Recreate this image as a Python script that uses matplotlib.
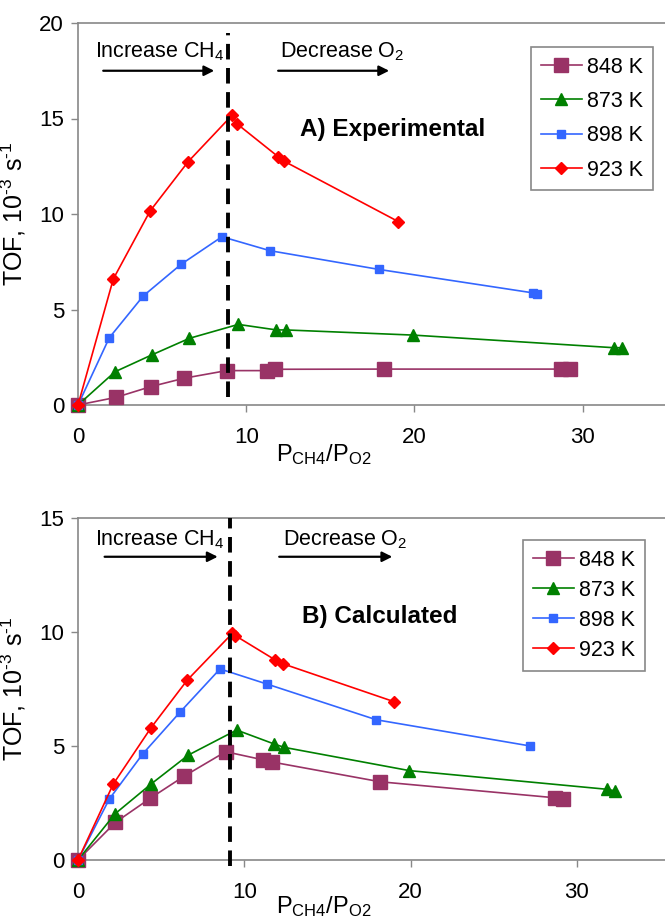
import matplotlib
matplotlib.use("Agg")
import matplotlib.pyplot as plt

plt.rcParams['font.family'] = ['Liberation Sans', 'DejaVu Sans']
plt.rcParams['mathtext.default'] = 'regular'

labels = ["848 K", "873 K", "898 K", "923 K"]
colors = ["#993366", "#008000", "#3366FF", "#FF0000"]
markers = ["s", "^", "s", "D"]
msizes = [10, 8, 6, 6.5]

# A) Experimental
expA_x = {
    "848 K": [0, 2.26, 4.32, 6.3, 8.83, 11.21, 11.7, 18.18, 28.74, 29.23],
    "873 K": [0, 2.2, 4.38, 6.62, 9.53, 11.8, 12.36, 19.93, 31.85, 32.36],
    "898 K": [0, 1.86, 3.88, 6.12, 8.56, 11.41, 17.88, 27.05, 27.3],
    "923 K": [0, 2.1, 4.28, 6.55, 9.17, 9.47, 11.9, 12.24, 19.05],
}
expA_y = {
    "848 K": [0, 0.4, 0.96, 1.4, 1.8, 1.8, 1.87, 1.88, 1.88, 1.88],
    "873 K": [0, 1.74, 2.62, 3.49, 4.22, 3.93, 3.93, 3.66, 3.0, 3.0],
    "898 K": [0, 3.52, 5.71, 7.36, 8.81, 8.08, 7.1, 5.87, 5.83],
    "923 K": [0, 6.6, 10.15, 12.74, 15.18, 14.71, 13.0, 12.77, 9.6],
}

# B) Calculated
calB_x = {
    "848 K": [0, 2.25, 4.33, 6.39, 8.88, 11.15, 11.65, 18.18, 28.68, 29.18],
    "873 K": [0, 2.22, 4.39, 6.63, 9.54, 11.79, 12.4, 19.93, 31.83, 32.3],
    "898 K": [0, 1.88, 3.89, 6.13, 8.54, 11.35, 17.94, 27.2],
    "923 K": [0, 2.12, 4.39, 6.57, 9.28, 9.46, 11.87, 12.35, 19.02],
}
calB_y = {
    "848 K": [0, 1.65, 2.7, 3.68, 4.75, 4.39, 4.3, 3.43, 2.73, 2.67],
    "873 K": [0, 2.02, 3.33, 4.6, 5.7, 5.09, 4.94, 3.92, 3.1, 3.03],
    "898 K": [0, 2.67, 4.65, 6.48, 8.38, 7.72, 6.15, 5.0],
    "923 K": [0, 3.33, 5.8, 7.89, 9.94, 9.84, 8.77, 8.6, 6.94],
}

fig = plt.figure(figsize=(6.65, 9.18), dpi=100)
axA = fig.add_axes([78/665, 1-405/918, 1-78/665, (405-23)/918])
axB = fig.add_axes([78/665, 1-860/918, 1-78/665, (860-518)/918])

grey = "#888888"

def style(ax, xmax, ymax, yticks, xlab_y):
    ax.set_xlim(0, xmax)
    ax.set_ylim(0, ymax)
    ax.set_xticks([0, 10, 20, 30])
    ax.set_yticks(yticks)
    for s in ["left", "bottom", "top"]:
        ax.spines[s].set_color(grey)
        ax.spines[s].set_linewidth(1.2)
    ax.spines["right"].set_visible(False)
    ax.tick_params(direction="out", length=5, width=1, color=grey,
                   labelsize=16, pad=5)
    ax.tick_params(axis="x", pad=11)
    ax.set_ylabel("TOF, 10$^{\u20103}$ s$^{\u20101}$", fontsize=18, labelpad=8)
    ax.set_xlabel("P$_{CH4}$/P$_{O2}$", fontsize=17)
    ax.xaxis.set_label_coords(0.418, xlab_y)

def plot_series(ax, xs, ys):
    for lab, c, m, ms in zip(labels, colors, markers, msizes):
        ax.plot(xs[lab], ys[lab], color=c, marker=m, markersize=ms, lw=1.2,
                markeredgecolor=c, label=lab, clip_on=False, zorder=3)

plot_series(axA, expA_x, expA_y)
plot_series(axB, calB_x, calB_y)

style(axA, 34.9, 20, [0, 5, 10, 15, 20], -0.098)
style(axB, 35.3, 15, [0, 5, 10, 15], -0.1)

# dashed lines
axA.plot([8.9, 8.9], [0.4, 19.5], color="black", lw=2.8, dashes=(4, 2.2), zorder=4)
axB.plot([9.14, 9.14], [-0.25, 15], color="black", lw=2.8, dashes=(4, 2.2), zorder=4, clip_on=False)

def annotate(ax, ytext, yarrow, x1, a1, a2, x2, b1, b2):
    ax.text(x1, ytext, "Increase CH$_4$", fontsize=15.5, va="center", ha="left")
    ax.annotate("", xy=(a2, yarrow), xytext=(a1, yarrow),
                arrowprops=dict(arrowstyle="-|>", color="black", lw=1.6,
                                mutation_scale=15, shrinkA=0, shrinkB=0))
    ax.text(x2, ytext, "Decrease O$_2$", fontsize=15.5, va="center", ha="left")
    ax.annotate("", xy=(b2, yarrow), xytext=(b1, yarrow),
                arrowprops=dict(arrowstyle="-|>", color="black", lw=1.6,
                                mutation_scale=15, shrinkA=0, shrinkB=0))

annotate(axA, 18.5, 17.5, 1.0, 1.5, 8.1, 12.0, 11.9, 18.5)
annotate(axB, 14.03, 13.3, 1.0, 1.6, 8.4, 12.3, 12.1, 18.9)

axA.text(13.2, 14.4, "A) Experimental", fontsize=17.5, fontweight="bold", va="center", ha="left")
axB.text(13.5, 10.66, "B) Calculated", fontsize=17.5, fontweight="bold", va="center", ha="left")

for ax, anchor, ls in [(axA, (653/665, 1-47/918), 0.62),
                       (axB, (645/665, 1-540/918), 0.42)]:
    leg = ax.legend(loc="upper right", bbox_to_anchor=anchor,
                    bbox_transform=fig.transFigure, fontsize=15.5,
                    fancybox=False, framealpha=1, edgecolor=grey,
                    handlelength=1.9, labelspacing=ls, borderpad=0.45,
                    handletextpad=0.25, borderaxespad=0, numpoints=1)
    leg.get_frame().set_linewidth(1.2)

fig.savefig("out.png", dpi=100)
